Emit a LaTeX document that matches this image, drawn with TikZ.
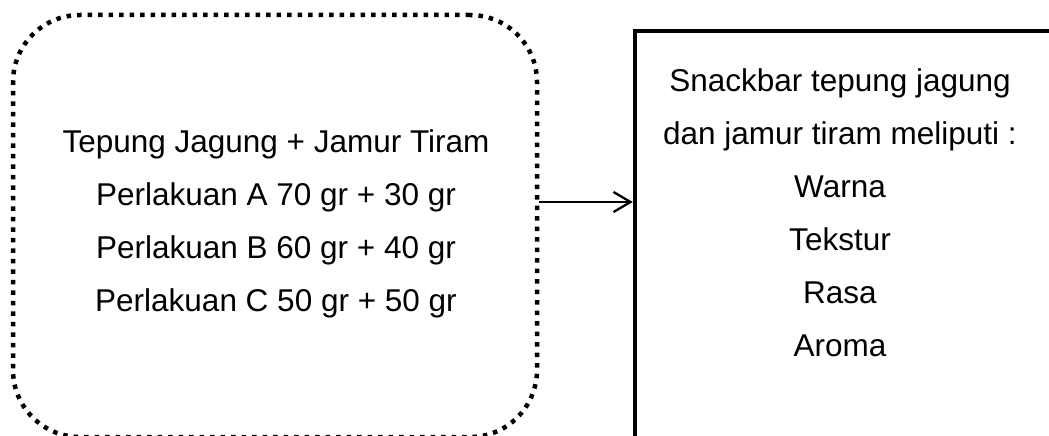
\documentclass[tikz,border=0pt]{standalone}
\usepackage{fontspec}
\setmainfont{Liberation Sans}
\usetikzlibrary{arrows.meta}
\begin{document}
\begin{tikzpicture}[x=1pt,y=-1pt,
  dotbox/.style={draw, line width=4.5pt, dash pattern=on 4.5pt off 6pt,
    rounded corners=67pt, minimum width=524pt, minimum height=422pt, inner sep=0pt},
  outbox/.style={minimum width=420pt, minimum height=410pt, inner sep=0pt},
  frame/.style={line width=4.5pt},
  leftlines/.style={align=center, inner sep=0pt, font=\fontsize{31.5}{53}\selectfont},
  rightlines/.style={align=center, inner sep=0pt, font=\fontsize{31.5}{53}\selectfont},
  link/.style={line width=2.3pt, -{Straight Barb[length=17pt,width=20pt,line width=2.3pt]}}]
  \useasboundingbox (0,0) rectangle (1049,436);
  % input box with dotted rounded outline
  \node[dotbox] (mix) at (275,226) {};
  \node[leftlines] (mixtext) at (276,224) {Tepung Jagung + Jamur Tiram\\
    Perlakuan A 70 gr + 30 gr\\ Perlakuan B 60 gr + 40 gr\\ Perlakuan C 50 gr + 50 gr};
  % output box, only the left and top sides are visible
  \node[outbox] (res) at (845,236) {};
  \draw[frame] (res.south west) -- (res.north west) -- (res.north east);
  \node[rightlines] (restext) at (840,213) {Snackbar tepung jagung\\
    dan jamur tiram meliputi :\\ Warna\\ Tekstur\\ Rasa\\ Aroma};
  \draw[link] (mix.east |- 0,202) -- ([xshift=-2pt]res.west |- 0,202);
\end{tikzpicture}
\end{document}
